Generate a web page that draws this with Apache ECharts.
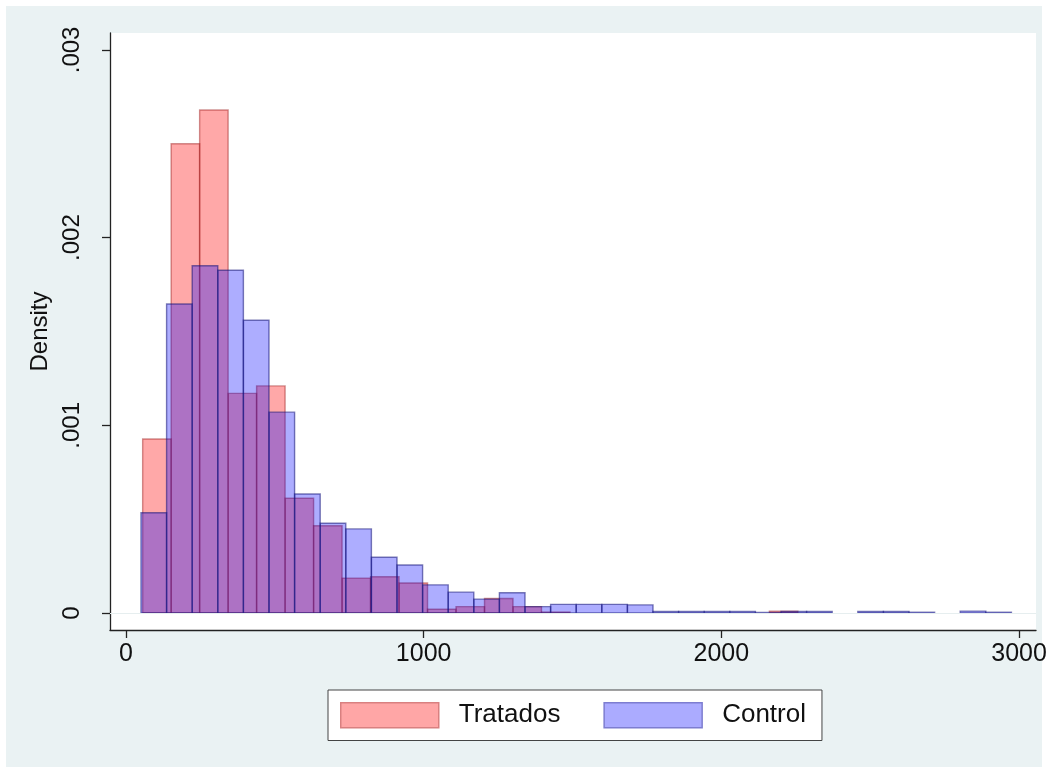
<!DOCTYPE html>
<html>
<head>
<meta charset="utf-8">
<script src="https://cdn.jsdelivr.net/npm/echarts@6/dist/echarts.min.js"></script>
<style>
html,body{margin:0;padding:0;background:#ffffff;}
#chart{width:1055px;height:773px;}
</style>
</head>
<body>
<div id="chart"></div>
<script>
// ---- data ----
const seriesNames = ['Tratados', 'Control'];
// Tratados (treated) histogram: first bin start, bin width, densities per bin
const tratadosStart = 56;
const tratadosWidth = 95.7;
const tratadosDensity = [0.000927, 0.00250, 0.00268, 0.00117, 0.00121, 0.000611, 0.000465, 0.000186,
  0.000193, 0.000160, 0.000020, 0.000034, 0.000077, 0.000034, 0.000005, 0, 0, 0, 0, 0, 0, 0, 0.000010];
// Control histogram
const controlStart = 50.4;
const controlWidth = 86;
const controlDensity = [0.000534, 0.001646, 0.00185, 0.001826, 0.00156, 0.00107, 0.000634, 0.000478,
  0.000448, 0.000297, 0.000256, 0.000150, 0.000111, 0.000074, 0.000108, 0.000034, 0.000046, 0.000046,
  0.000046, 0.000043, 0.000008, 0.000008, 0.000008, 0.000008, 0.000003, 0.000008, 0.000008, 0,
  0.000008, 0.000008, 0.000004, 0, 0.000010, 0.000004];
const xTicks = [0, 1000, 2000, 3000];
const xTickLabels = ['0', '1000', '2000', '3000'];
const yTicks = [0, 0.001, 0.002, 0.003];
const yTickLabels = ['0', '.001', '.002', '.003'];

function bins(start, width, dens) {
  const out = [];
  dens.forEach((d, i) => {
    if (d > 0) out.push([start + i * width, start + (i + 1) * width, d]);
  });
  return out;
}

function makeRender(fill, stroke) {
  return function (params, api) {
    const p0 = api.coord([api.value(0), 0]);
    const p1 = api.coord([api.value(1), api.value(2)]);
    return {
      type: 'rect',
      shape: { x: p0[0], y: p1[1], width: p1[0] - p0[0], height: p0[1] - p1[1] },
      style: { fill: fill, stroke: stroke, lineWidth: 1.4 }
    };
  };
}

function labelFor(ticks, labels) {
  return function (v) {
    const i = ticks.findIndex(t => Math.abs(t - v) < 1e-9);
    return i >= 0 ? labels[i] : '';
  };
}

const FONT = 'Liberation Sans, Arial, sans-serif';
const redFill = 'rgba(255,0,0,0.34)', redStroke = 'rgba(150,20,20,0.45)';
const blueFill = 'rgba(0,0,255,0.32)', blueStroke = 'rgba(20,20,120,0.55)';

const chart = echarts.init(document.getElementById('chart'), null, { renderer: 'canvas' });
chart.setOption({
  backgroundColor: '#ffffff',
  animation: false,
  graphic: [{
    type: 'rect', z: -10, silent: true,
    shape: { x: 6, y: 6, width: 1036, height: 761 },
    style: { fill: '#eaf2f3' }
  }],
  grid: {
    left: 110, right: 19, top: 33, bottom: 143,
    show: true, backgroundColor: '#ffffff', borderWidth: 0
  },
  legend: {
    left: 328, top: 690,
    orient: 'horizontal',
    backgroundColor: '#ffffff',
    borderColor: '#444444', borderWidth: 1,
    padding: [12, 16, 12, 12],
    itemWidth: 98, itemHeight: 25, itemGap: 43,
    textStyle: { fontFamily: FONT, fontSize: 26, color: '#111111', padding: [0, 0, 0, 15] },
    data: [
      { name: seriesNames[0], icon: 'rect', itemStyle: { color: '#ffa6a6', borderColor: '#d98080', borderWidth: 1.5 } },
      { name: seriesNames[1], icon: 'rect', itemStyle: { color: '#ababff', borderColor: '#7d7dd0', borderWidth: 1.5 } }
    ]
  },
  xAxis: {
    type: 'value',
    min: -53.7, max: 3057,
    axisLine: { show: true, onZero: false, lineStyle: { color: '#222', width: 1.3 } },
    axisTick: { show: true, length: 8, customValues: xTicks, lineStyle: { color: '#222', width: 1.3 } },
    axisLabel: {
      customValues: xTicks, margin: 12, fontFamily: FONT, fontSize: 25, color: '#111',
      formatter: labelFor(xTicks, xTickLabels)
    },
    splitLine: { show: false }
  },
  yAxis: {
    type: 'value',
    min: -0.0000906, max: 0.00309,
    name: 'Density', nameLocation: 'middle', nameGap: 52,
    nameTextStyle: { fontFamily: FONT, fontSize: 24, color: '#111' },
    axisLine: { show: true, onZero: false, lineStyle: { color: '#222', width: 1.3 } },
    axisTick: { show: true, length: 8, customValues: yTicks, lineStyle: { color: '#222', width: 1.3 } },
    axisLabel: {
      customValues: yTicks, rotate: 90, margin: 26,
      fontFamily: FONT, fontSize: 24, color: '#111',
      formatter: labelFor(yTicks, yTickLabels)
    },
    splitLine: { show: false }
  },
  series: [
    {
      name: 'grid', type: 'line', data: [], silent: true, z: 1,
      markLine: {
        silent: true, symbol: 'none', animation: false,
        label: { show: false },
        lineStyle: { color: '#e6eeef', width: 1.2, type: 'solid' },
        data: yTicks.map(v => ({ yAxis: v }))
      }
    },
    {
      name: seriesNames[0], type: 'custom', z: 2,
      renderItem: makeRender(redFill, redStroke),
      encode: { x: [0, 1], y: 2 },
      itemStyle: { color: '#ffa6a6' },
      data: bins(tratadosStart, tratadosWidth, tratadosDensity)
    },
    {
      name: seriesNames[1], type: 'custom', z: 3,
      renderItem: makeRender(blueFill, blueStroke),
      encode: { x: [0, 1], y: 2 },
      itemStyle: { color: '#ababff' },
      data: bins(controlStart, controlWidth, controlDensity)
    }
  ]
});
</script>
</body>
</html>
